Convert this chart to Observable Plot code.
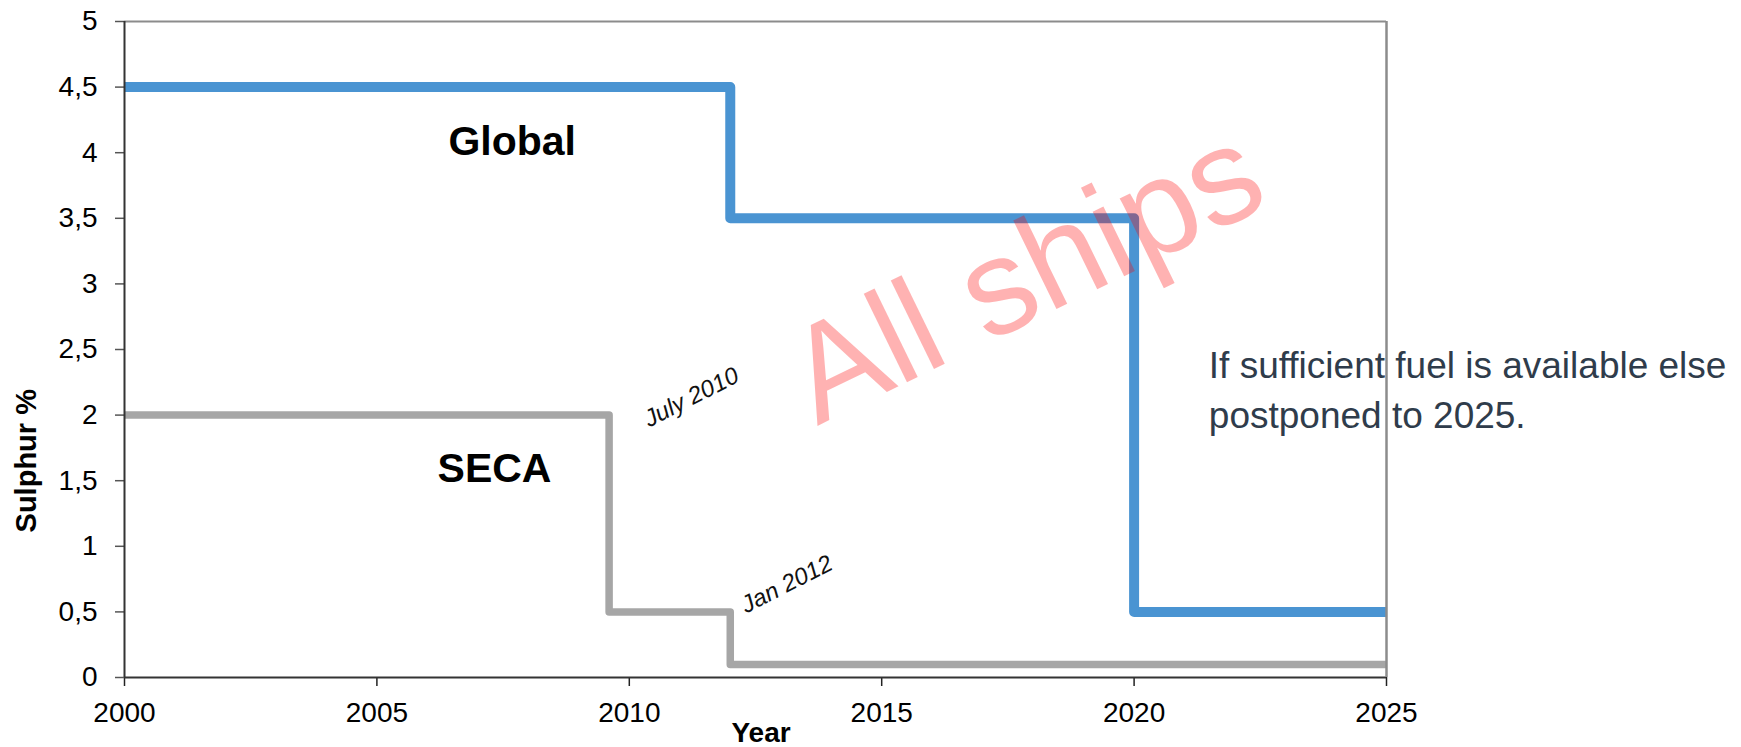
<!DOCTYPE html>
<html><head><meta charset="utf-8">
<script src="https://cdn.jsdelivr.net/npm/d3@7"></script>
<script src="https://cdn.jsdelivr.net/npm/@observablehq/plot@0.6"></script>
<style>
html,body{margin:0;padding:0;background:#fff;}
#chart svg{display:block;}
</style></head><body><div id="chart"></div>
<script>
// ---- data ----
const globalYears = [2000, 2012, 2020, 2025];
const globalSulphur = [4.5, 3.5, 0.5, 0.5];
const secaYears = [2000, 2009.6, 2012, 2025];
const secaSulphur = [2.0, 0.5, 0.1, 0.1];
const xTicks = [2000, 2005, 2010, 2015, 2020, 2025];
const yTicks = [0, 0.5, 1, 1.5, 2, 2.5, 3, 3.5, 4, 4.5, 5];
const yTickLabels = ["0", "0,5", "1", "1,5", "2", "2,5", "3", "3,5", "4", "4,5", "5"];
const seriesNames = ["Global", "SECA"];
const dateNotes = ["July 2010", "Jan 2012"];
const noteText = "If sufficient fuel is available else\npostponed to 2025.";
const watermarkText = "All ships";
const xTitle = "Year";
const yTitle = "Sulphur %";

// ---- annotation anchors (data coordinates) ----
const seriesNamePos = [{x: 2007.68, y: 3.985}, {x: 2007.33, y: 1.487}];
const dateNotePos = [{x: 2011.3, y: 2.084}, {x: 2013.19, y: 0.659}];
const notePos = {x: 2021.48, y: 1.903};
const watermarkPos = {x: 2018.23, y: 2.763};
const xTitlePos = {x: 2012.61, y: -0.495};
const yTitlePos = {x: 1998.24, y: 1.652};

const globalData = globalYears.map((x, i) => ({x, y: globalSulphur[i]}));
const secaData = secaYears.map((x, i) => ({x, y: secaSulphur[i]}));
const nameData = seriesNames.map((t, i) => ({...seriesNamePos[i], t}));
const dateData = dateNotes.map((t, i) => ({...dateNotePos[i], t}));

const plot = Plot.plot({
  width: 1741, height: 747,
  marginLeft: 124, marginRight: 355, marginTop: 21, marginBottom: 70,
  style: {fontFamily: "'Liberation Sans', Arial, sans-serif", background: "#fff", overflow: "visible", color: "#000"},
  x: {domain: [2000, 2025]},
  y: {domain: [0, 5]},
  marks: [
    Plot.axisX({ticks: xTicks, tickFormat: d => String(d), tickSize: 9, tickPadding: 16, fontSize: 28, stroke: "#222", strokeWidth: 1.5, fill: "#000", label: null}),
    Plot.axisY({ticks: yTicks, tickFormat: d => yTickLabels[yTicks.indexOf(d)], tickSize: 9, tickPadding: 18, fontSize: 28, stroke: "#555", strokeWidth: 1.5, fill: "#000", label: null}),
    Plot.line(secaData, {x: "x", y: "y", curve: "step-after", stroke: "#a6a6a6", strokeWidth: 7.5, strokeLinejoin: "round", strokeLinecap: "butt"}),
    Plot.line(globalData, {x: "x", y: "y", curve: "step-after", stroke: "#4a94d2", strokeWidth: 10, strokeLinejoin: "round", strokeLinecap: "butt"}),
    Plot.ruleY([5], {stroke: "#8c8c8c", strokeWidth: 2}),
    Plot.ruleX([2000], {stroke: "#333", strokeWidth: 2}),
    Plot.ruleY([0], {stroke: "#333", strokeWidth: 2}),
    Plot.text(nameData, {x: "x", y: "y", text: "t", fontSize: 41, fontWeight: "bold", fill: "#000", textAnchor: "middle", lineAnchor: "bottom"}),
    Plot.text(dateData, {x: "x", y: "y", text: "t", fontSize: 24, fontStyle: "italic", fill: "#111", textAnchor: "middle", lineAnchor: "bottom", rotate: -27}),
    Plot.text([noteText], {x: notePos.x, y: notePos.y, text: d => d, fontSize: 37, fill: "#2f3c4b", textAnchor: "start", lineAnchor: "bottom", lineHeight: 1.35}),
    Plot.text([xTitle], {x: xTitlePos.x, y: xTitlePos.y, text: d => d, fontSize: 28, fontWeight: "bold", fill: "#000", textAnchor: "middle", lineAnchor: "bottom"}),
    Plot.text([yTitle], {x: yTitlePos.x, y: yTitlePos.y, text: d => d, fontSize: 29, fontWeight: "bold", fill: "#000", textAnchor: "middle", lineAnchor: "bottom", rotate: -90}),
    Plot.text([watermarkText], {x: watermarkPos.x, y: watermarkPos.y, text: d => d, fontSize: 136, fill: "red", fillOpacity: 0.3, textAnchor: "middle", lineAnchor: "bottom", rotate: -26}),
    Plot.ruleX([2025], {stroke: "#8c8c8c", strokeWidth: 2.5})
  ]
});
document.getElementById("chart").appendChild(plot);
</script>
</body></html>
